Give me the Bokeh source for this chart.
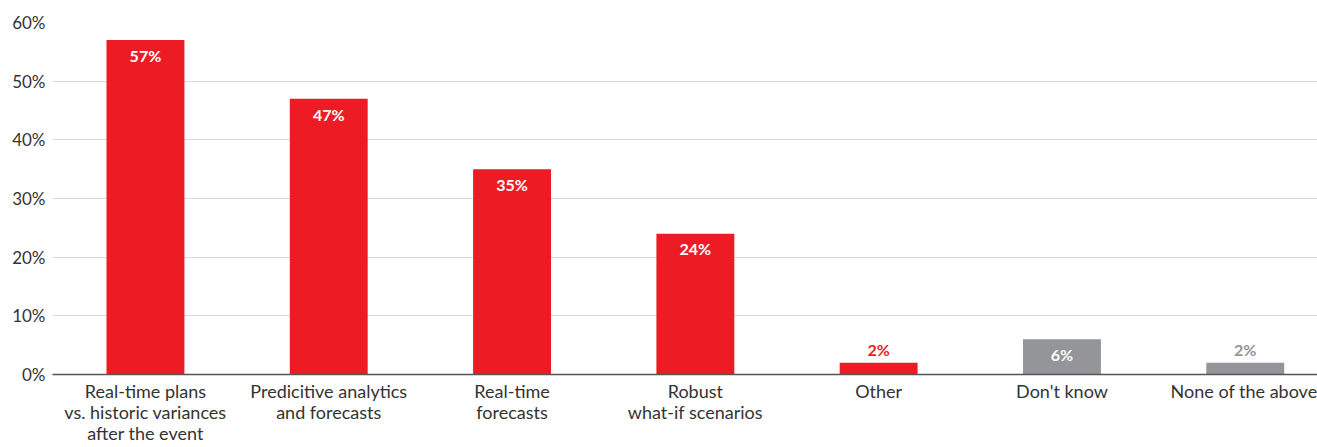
from bokeh.plotting import figure
from bokeh.models import Range1d, FixedTicker
from bokeh.core.properties import value
from bokeh.embed import file_html
from bokeh.resources import INLINE

categories = ["Real-time plans\nvs. historic variances\nafter the event",
              "Predicitive analytics\nand forecasts",
              "Real-time\nforecasts",
              "Robust\nwhat-if scenarios",
              "Other",
              "Don't know",
              "None of the above"]
values = [57, 47, 35, 24, 2, 6, 2]
groups = ["main", "main", "main", "main", "main", "neutral", "neutral"]
y_ticks = [0, 10, 20, 30, 40, 50, 60]

RED = "#ED1C24"
GREY = "#939598"
FONT = "Lato"

xs = list(range(len(categories)))
colors = [RED if g == "main" else GREY for g in groups]

p = figure(width=1317, height=447, output_backend="svg", toolbar_location=None,
           x_range=Range1d(-0.507, 6.394), y_range=Range1d(0, 60),
           min_border_left=52, min_border_right=0, min_border_top=22, min_border_bottom=0)
p.outline_line_color = None
p.background_fill_color = "white"
p.border_fill_color = "white"

p.vbar(x=xs, top=values, width=0.425, color=colors, line_color=None)

# value labels
in_x, in_y, in_t = [], [], []
out_x, out_y, out_t, out_c = [], [], [], []
for x, v, c in zip(xs, values, colors):
    if v >= 5:
        in_x.append(x); in_y.append(v - 2.6); in_t.append(f"{v}%")
    else:
        out_x.append(x); out_y.append(v + 2.2); out_t.append(f"{v}%"); out_c.append(c)
p.text(x=in_x, y=in_y, text=in_t, text_color="white", text_align="center",
       text_baseline="middle", text_font=value(FONT), text_font_style="bold",
       text_font_size="16px")
p.text(x=out_x, y=out_y, text=out_t, text_color=out_c, text_align="center",
       text_baseline="middle", text_font=value(FONT), text_font_style="bold",
       text_font_size="16px")

# axes
p.yaxis.ticker = FixedTicker(ticks=y_ticks)
p.yaxis.major_label_overrides = {t: f"{t}%" for t in y_ticks}
p.yaxis.axis_line_color = None
p.yaxis.major_tick_line_color = None
p.yaxis.minor_tick_line_color = None
p.yaxis.major_tick_out = 0
p.yaxis.major_tick_in = 0
p.yaxis.major_label_text_font = FONT
p.yaxis.major_label_text_font_size = "17px"
p.yaxis.major_label_text_color = "#333333"
p.yaxis.major_label_standoff = 7

p.xaxis.ticker = FixedTicker(ticks=xs)
p.xaxis.major_label_overrides = {x: c for x, c in zip(xs, categories)}
p.xaxis.axis_line_color = "#555555"
p.xaxis.axis_line_width = 1.5
p.xaxis.major_tick_line_color = None
p.xaxis.minor_tick_line_color = None
p.xaxis.major_tick_out = 0
p.xaxis.major_tick_in = 0
p.xaxis.major_label_text_font = FONT
p.xaxis.major_label_text_font_size = "18px"
p.xaxis.major_label_text_line_height = 0.97
p.xaxis.major_label_text_color = "#333333"
p.xaxis.major_label_standoff = 5

p.xgrid.grid_line_color = None
p.ygrid.grid_line_color = "#dadada"
p.ygrid.grid_line_width = 1
p.ygrid.ticker = FixedTicker(ticks=y_ticks)

open("out.html", "w").write(file_html(p, INLINE))
